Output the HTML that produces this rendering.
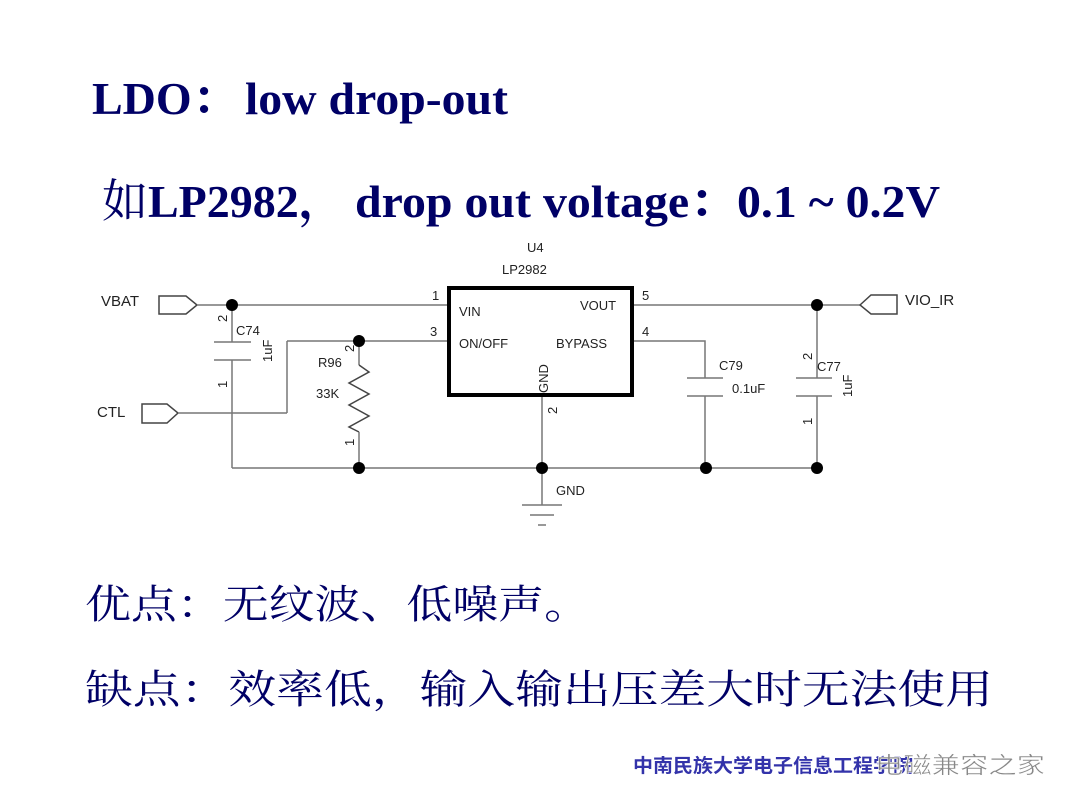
<!DOCTYPE html>
<html><head><meta charset="utf-8"><style>
html,body{margin:0;padding:0;background:#fff;}
svg{display:block;}
.t{font-family:"Liberation Serif","Noto Serif CJK SC",serif;font-weight:bold;fill:#000066;}
.c{font-family:"Liberation Serif","Noto Serif CJK SC","Noto Sans CJK SC",serif;fill:#000066;}
.s{font-family:"Liberation Sans","DejaVu Sans",sans-serif;font-size:15px;fill:#222;}
.p{font-family:"Liberation Sans","DejaVu Sans",sans-serif;font-size:13px;fill:#222;}
</style></head><body>
<svg width="1080" height="810" viewBox="0 0 1080 810" xmlns="http://www.w3.org/2000/svg">
<text class="t" x="92" y="114" font-size="46">LDO<tspan font-family="Noto Serif CJK SC,serif">：</tspan></text>
<text class="t" x="245" y="114" font-size="46" textLength="263" lengthAdjust="spacingAndGlyphs">low drop-out</text>
<text class="t" x="102" y="217" font-size="46"><tspan font-weight="normal" font-family="Noto Serif CJK SC,serif">如</tspan>LP2982<tspan font-family="Noto Serif CJK SC,serif">，</tspan></text>
<text class="t" x="355" y="217" font-size="46" textLength="585" lengthAdjust="spacingAndGlyphs">drop out voltage<tspan font-family="Noto Serif CJK SC,serif">：</tspan>0.1 ~ 0.2V</text>

<g stroke="#777" stroke-width="1.5" fill="none">
<!-- VBAT -->
<polygon points="159,296 186,296 197,305 186,314 159,314" stroke="#444"/>
<line x1="197" y1="305" x2="448" y2="305"/>
<line x1="232" y1="305" x2="232" y2="342"/>
<line x1="214" y1="342" x2="251" y2="342"/>
<line x1="214" y1="360" x2="251" y2="360"/>
<line x1="232" y1="360" x2="232" y2="468"/>
<!-- CTL -->
<polygon points="142,404 167,404 178,413 167,423 142,423" stroke="#444"/>
<line x1="178" y1="413" x2="287" y2="413"/>
<line x1="287" y1="413" x2="287" y2="341"/>
<line x1="287" y1="341" x2="448" y2="341"/>
<!-- R96 -->
<line x1="359" y1="341" x2="359" y2="365"/>
<polyline points="359,365 369,372 349,383 369,394 349,405 369,416 349,427 359,432" stroke="#444"/>
<line x1="359" y1="432" x2="359" y2="468"/>
<!-- bottom -->
<line x1="232" y1="468" x2="817" y2="468"/>
<line x1="542" y1="396" x2="542" y2="505"/>
<line x1="522" y1="505" x2="562" y2="505"/>
<line x1="530" y1="515" x2="554" y2="515"/>
<line x1="538" y1="525" x2="546" y2="525"/>
<!-- VOUT -->
<line x1="633" y1="305" x2="860" y2="305"/>
<polygon points="860,305 871,295 897,295 897,314 871,314" stroke="#444"/>
<!-- BYPASS C79 -->
<polyline points="633,341 705,341 705,378"/>
<line x1="687" y1="378" x2="723" y2="378"/>
<line x1="687" y1="396" x2="723" y2="396"/>
<line x1="705" y1="396" x2="705" y2="468"/>
<!-- C77 -->
<line x1="817" y1="305" x2="817" y2="378"/>
<line x1="796" y1="378" x2="832" y2="378"/>
<line x1="796" y1="396" x2="832" y2="396"/>
<line x1="817" y1="396" x2="817" y2="468"/>
</g>
<rect x="449" y="288" width="183" height="107" fill="none" stroke="#000" stroke-width="4"/>
<g fill="#000">
<circle cx="232" cy="305" r="6"/><circle cx="359" cy="341" r="6"/>
<circle cx="359" cy="468" r="6"/><circle cx="542" cy="468" r="6"/>
<circle cx="706" cy="468" r="6"/><circle cx="817" cy="468" r="6"/>
<circle cx="817" cy="305" r="6"/>
</g>
<text class="s" x="101" y="306">VBAT</text>
<text class="s" x="97" y="417">CTL</text>
<text class="s" x="905" y="305">VIO_IR</text>
<text class="p" x="527" y="252">U4</text>
<text class="p" x="502" y="274">LP2982</text>
<text class="p" x="459" y="316">VIN</text>
<text class="p" x="459" y="348">ON/OFF</text>
<text class="p" x="580" y="310">VOUT</text>
<text class="p" x="556" y="348">BYPASS</text>
<text class="p" transform="translate(548,393) rotate(-90)">GND</text>
<text class="p" x="432" y="300">1</text>
<text class="p" x="430" y="336">3</text>
<text class="p" x="642" y="300">5</text>
<text class="p" x="642" y="336">4</text>
<text class="p" transform="translate(557,414) rotate(-90)">2</text>
<text class="p" x="236" y="335">C74</text>
<text class="p" transform="translate(272,362) rotate(-90)">1uF</text>
<text class="p" transform="translate(227,322) rotate(-90)">2</text>
<text class="p" transform="translate(227,388) rotate(-90)">1</text>
<text class="p" x="318" y="367">R96</text>
<text class="p" x="316" y="398">33K</text>
<text class="p" transform="translate(354,352) rotate(-90)">2</text>
<text class="p" transform="translate(354,446) rotate(-90)">1</text>
<text class="p" x="556" y="495">GND</text>
<text class="p" x="719" y="370">C79</text>
<text class="p" x="732" y="393">0.1uF</text>
<text class="p" x="817" y="371">C77</text>
<text class="p" transform="translate(852,397) rotate(-90)">1uF</text>
<text class="p" transform="translate(812,360) rotate(-90)">2</text>
<text class="p" transform="translate(812,425) rotate(-90)">1</text>

<text class="c" x="85" y="618" font-size="40" textLength="505" lengthAdjust="spacingAndGlyphs">优点：无纹波、低噪声。</text>
<text class="c" x="85" y="703" font-size="40" textLength="908" lengthAdjust="spacingAndGlyphs">缺点：效率低，输入输出压差大时无法使用</text>
<text x="633" y="772" font-family="Liberation Sans,Noto Sans CJK SC,sans-serif" font-weight="bold" font-size="19" fill="#3333aa" textLength="280" lengthAdjust="spacingAndGlyphs">中南民族大学电子信息工程学院</text>
<text x="875" y="773" font-family="Liberation Sans,Noto Sans CJK SC,sans-serif" font-size="23" fill="#888" stroke="#fff" stroke-width="0.5" textLength="170" lengthAdjust="spacingAndGlyphs">电磁兼容之家</text>
</svg>
</body></html>
